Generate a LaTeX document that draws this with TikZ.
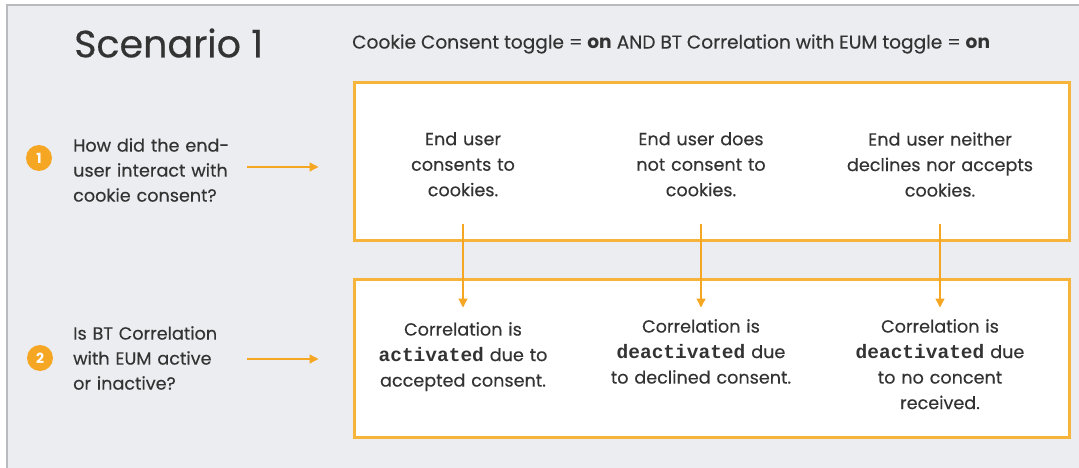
\documentclass[tikz,border=0pt]{standalone}
\usepackage{fontspec}
\setmainfont{Poppins}[UprightFeatures={FakeBold=0.3}]
\setmonofont{Liberation Mono}
\usepackage{tikz}
\usetikzlibrary{arrows.meta, positioning, calc}
\definecolor{panelgray}{HTML}{ECEDF1}
\definecolor{edgegray}{HTML}{B9BABD}
\definecolor{amber}{HTML}{F5A623}
\definecolor{boxamber}{HTML}{F6B43A}
\definecolor{inkgray}{HTML}{333333}
\tikzset{
  heading/.style={
    anchor=west, inner sep=0pt, text=inkgray,
    font=\fontsize{38}{42}\selectfont,
  },
  subheading/.style={
    anchor=west, inner sep=0pt, text=inkgray,
    font=\fontsize{18.6}{22}\selectfont,
  },
  frame/.style={
    rectangle, draw=boxamber, line width=3pt, fill=white,
    minimum width=715pt, minimum height=158pt, inner sep=0pt,
  },
  badge/.style={
    circle, fill=amber, minimum size=26pt, inner sep=0pt,
    text=white, font=\fontsize{14}{14}\selectfont\bfseries,
  },
  question/.style={
    anchor=west, align=left, inner sep=0pt, text=inkgray,
    text width=174pt, font=\fontsize{17.6}{25}\selectfont,
  },
  choice/.style={
    anchor=north, align=center, inner sep=0pt, text=inkgray,
    text width=225pt, font=\fontsize{17.6}{25.5}\selectfont,
  },
  arrow/.style={-{Triangle[length=9pt, width=9pt]}, line width=1.3pt, color=amber},
}
\newcommand{\state}[1]{{\fontsize{19.5}{25.5}\selectfont\ttfamily\bfseries #1}}

\begin{document}
\begin{tikzpicture}[x=1pt, y=-1pt]
  \useasboundingbox (0,0) rectangle (1079,468);

  % backdrop panel
  \fill[panelgray] (7,5) rectangle (1079,468);
  \draw[edgegray, line width=1.5pt] (7,468) -- (7,5) -- (1079,5);

  \node[heading] (title) at (74,43) {Scenario 1};
  \node[subheading] (toggles) at (352,44) {Cookie Consent toggle = \textbf{on} AND BT Correlation with EUM toggle = \textbf{on}};

  \node[frame] (consent) at (711.5,161.5) {};
  \node[frame] (result) at (711.5,358) {};

  \node[badge] (n1) at (39,158) {1};
  \node[badge] (n2) at (40,358) {2};
  \node[question] (q1) at (73,170) {How did the end-\\user interact with\\cookie consent?};
  \node[question] (q2) at (73,358) {Is BT Correlation\\with EUM active\\or inactive?};

  \node[choice] (c1) at (463,132) {End user\\consents to\\cookies.};
  \node[choice] (c2) at (701,132) {End user does\\not consent to\\cookies.};
  \node[choice] (c3) at (940,132) {End user neither\\declines nor accepts\\cookies.};

  \node[choice] (r1) at (463,322) {Correlation is\\\state{activated} due to\\accepted consent.};
  \node[choice] (r2) at (701,319) {Correlation is\\\state{deactivated} due\\to declined consent.};
  \node[choice] (r3) at (940,319) {Correlation is\\\state{deactivated} due\\to no concent\\received.};

  \draw[arrow, shorten >=34pt] (q1.east |- 0,167) -- (consent.west |- 0,167);
  \draw[arrow, shorten >=34pt] (q2.east |- 0,359) -- (result.west |- 0,359);

  \foreach \c/\r in {c1/r1, c2/r2, c3/r3}
    \draw[arrow] ($(\c |- consent.south)+(0,-18)$) -- ($(\r |- result.north)+(0,30)$);

\end{tikzpicture}
\end{document}
